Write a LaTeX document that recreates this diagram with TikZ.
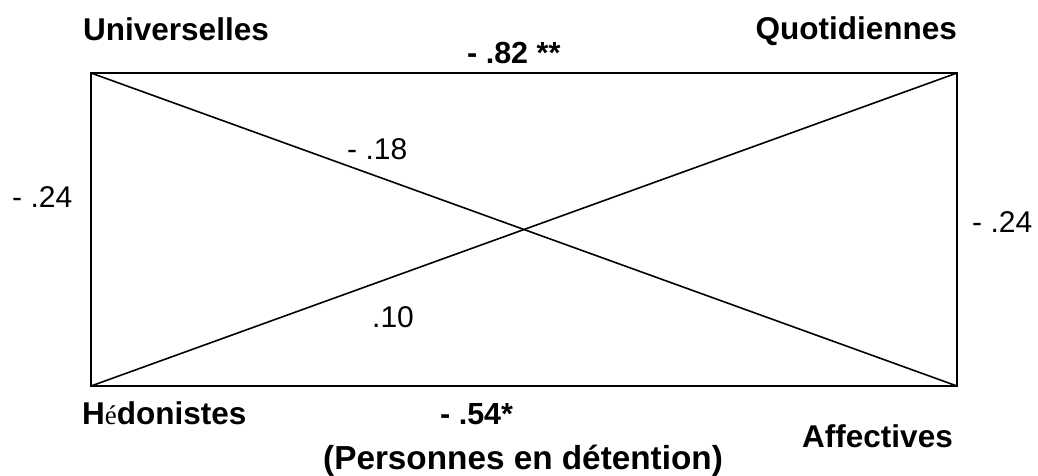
\documentclass[tikz,border=0pt]{standalone}
\usepackage{fontspec}
\setmainfont{Liberation Sans}
\newfontfamily\accentfont{Liberation Serif}
\begin{document}
\begin{tikzpicture}[x=1pt,y=-1pt,
  frame/.style={line width=2pt,line cap=rect},
  diag/.style={line width=1.6pt},
  cat/.style={inner sep=0pt,font=\fontsize{31.5}{36}\selectfont\bfseries},
  coef/.style={inner sep=0pt,font=\fontsize{30}{34}\selectfont},
  bcoef/.style={inner sep=0pt,font=\fontsize{30.5}{34}\selectfont\bfseries}]
\useasboundingbox (0,0) rectangle (1038,475);
% corners of the square of correlations
\coordinate (ul) at (91,73);
\coordinate (ur) at (957,73);
\coordinate (bl) at (91,386);
\coordinate (br) at (957,386);
% sides and diagonals
\draw[frame] (ul) -- (ur) -- (br) -- (bl) -- cycle;
\draw[diag] (ul) -- (br);
\draw[diag] (bl) -- (ur);
% category names
\node[cat,anchor=base west] (univ) at (83,40) {Universelles};
\node[cat,anchor=base east] (quot) at (957,39) {Quotidiennes};
\node[cat,anchor=base west] (hedo) at (82,424) {H{\accentfont\mdseries\fontsize{27}{30}\selectfont é}donistes};
\node[cat,anchor=base east] (affe) at (953,447) {Affectives};
\node[cat,anchor=base west,font=\fontsize{33.3}{36}\selectfont\bfseries] (pers) at (323,469) {(Personnes en détention)};
% coefficients
\node[bcoef,anchor=base west] (c82) at (467,63) {- .82 **};
\node[bcoef,anchor=base west] (c54) at (440,424) {- .54*};
\node[coef,anchor=base west] (c24l) at (12,207) {- .24};
\node[coef,anchor=base west] (c24r) at (972,232) {- .24};
\node[coef,anchor=base west] (c18) at (347,159) {- .18};
\node[coef,anchor=base west] (c10) at (372,327) {.10};
\end{tikzpicture}
\end{document}
